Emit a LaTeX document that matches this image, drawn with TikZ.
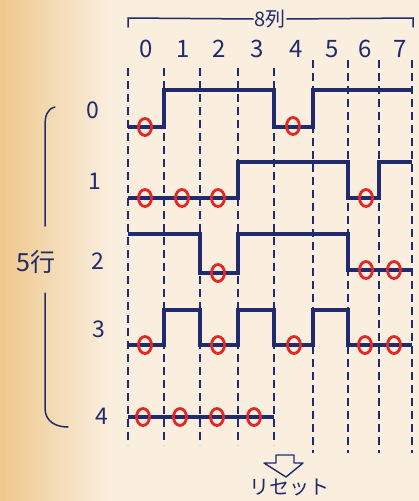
\documentclass[tikz,border=0pt]{standalone}
\usepackage{fontspec}
\setmainfont{Noto Sans CJK JP}
\usetikzlibrary{shapes.geometric}
\definecolor{ink}{RGB}{32,42,108}
\definecolor{mark}{RGB}{228,38,36}
\definecolor{paper}{RGB}{250,238,222}
\definecolor{paperL}{RGB}{238,200,140}
\tikzset{
  wave/.style={ink,line width=3.2pt,line join=miter},
  gridline/.style={ink,line width=1.4pt,dash pattern=on 8pt off 5pt},
  zero/.style={ellipse,draw=mark,line width=2.8pt,minimum width=13pt,minimum height=17pt,inner sep=0pt},
  lab/.style={ink,font=\fontsize{23}{23}\selectfont,inner sep=0pt},
  collab/.style={ink,font=\fontsize{24}{24}\selectfont,inner sep=0pt},
  brace/.style={ink,line width=1.5pt,line cap=round}
}
\begin{document}
\begin{tikzpicture}[x=1pt,y=-1pt]
\useasboundingbox (0,0) rectangle (419,501);
\fill[paper] (0,0) rectangle (419,501);
\shade[left color=paperL,right color=paper] (0,0) rectangle (110,501);
% grid lines
\foreach \x in {128,164,200,238,274} \draw[gridline] (\x,68) -- (\x,445);
\foreach \x in {313,348,379,412} \draw[gridline] (\x,60) -- (\x,453);
% top bracket and label
\node[ink,font=\fontsize{20}{20}\selectfont,inner sep=1pt] (cols) at (270,19) {8列};
\draw[brace] (cols.west) -- (128,18) -- (128,27);
\draw[brace] (cols.east) -- (413,18) -- (413,27);
% column labels
\foreach \i/\x in {0/146,1/183,2/219,3/257,4/296,5/332,6/365,7/400}
  \node[collab] (c\i) at (\x,49) {\i};
% row labels
\node[lab] (r0) at (93,110) {0};
\node[lab] (r1) at (95,181) {1};
\node[lab] (r2) at (98,261) {2};
\node[lab] (r3) at (99,329) {3};
\node[lab] (r4) at (102,416) {4};
\node[lab,font=\fontsize{25}{25}\selectfont] (rows) at (36,262) {5行};
% left brace
\draw[brace] (55,107) .. controls (47,109) and (45,116) .. (45,126) -- (45,226);
\draw[brace] (45,293) -- (45,408) .. controls (45,421) and (55,427) .. (68,427);
% waveforms
\draw[wave] (128,127) -- (164,127) -- (164,90) -- (274,90) -- (274,127) -- (313,127) -- (313,90) -- (412,90);
\draw[wave] (128,198) -- (238,198) -- (238,162) -- (348,162) -- (348,198) -- (379,198) -- (379,162) -- (412,162);
\draw[wave] (128,234) -- (200,234) -- (200,273) -- (238,273) -- (238,234) -- (348,234) -- (348,270) -- (412,270);
\draw[wave] (128,345) -- (164,345) -- (164,310) -- (200,310) -- (200,345) -- (238,345) -- (238,310) -- (274,310) -- (274,345) -- (313,345) -- (313,310) -- (348,310) -- (348,345) -- (412,345);
\draw[wave] (128,417) -- (274,417);
% zero marks
\node[zero] (z00) at (145,127) {};
\node[zero] (z04) at (293,126) {};
\node[zero] (z10) at (145,198) {};
\node[zero] (z11) at (182,198) {};
\node[zero] (z12) at (218,198) {};
\node[zero] (z16) at (366,198) {};
\node[zero] (z22) at (218,273) {};
\node[zero] (z26) at (366,270) {};
\node[zero] (z27) at (394,270) {};
\node[zero] (z30) at (145,345) {};
\node[zero] (z32) at (218,345) {};
\node[zero] (z34) at (294,345) {};
\node[zero] (z36) at (365,345) {};
\node[zero] (z37) at (394,345) {};
\node[zero] (z40) at (143,417) {};
\node[zero] (z41) at (180,417) {};
\node[zero] (z42) at (217,417) {};
\node[zero] (z43) at (254,417) {};
% reset arrow
\draw[ink,line width=1.4pt,line join=round] (276,455) -- (294,455) -- (294,463) -- (303,463) -- (286,477) -- (264,463) -- (276,463) -- cycle;
\node[ink,font=\fontsize{20}{20}\selectfont,inner sep=0pt] (reset) at (289,488) {リセット};
\end{tikzpicture}
\end{document}
